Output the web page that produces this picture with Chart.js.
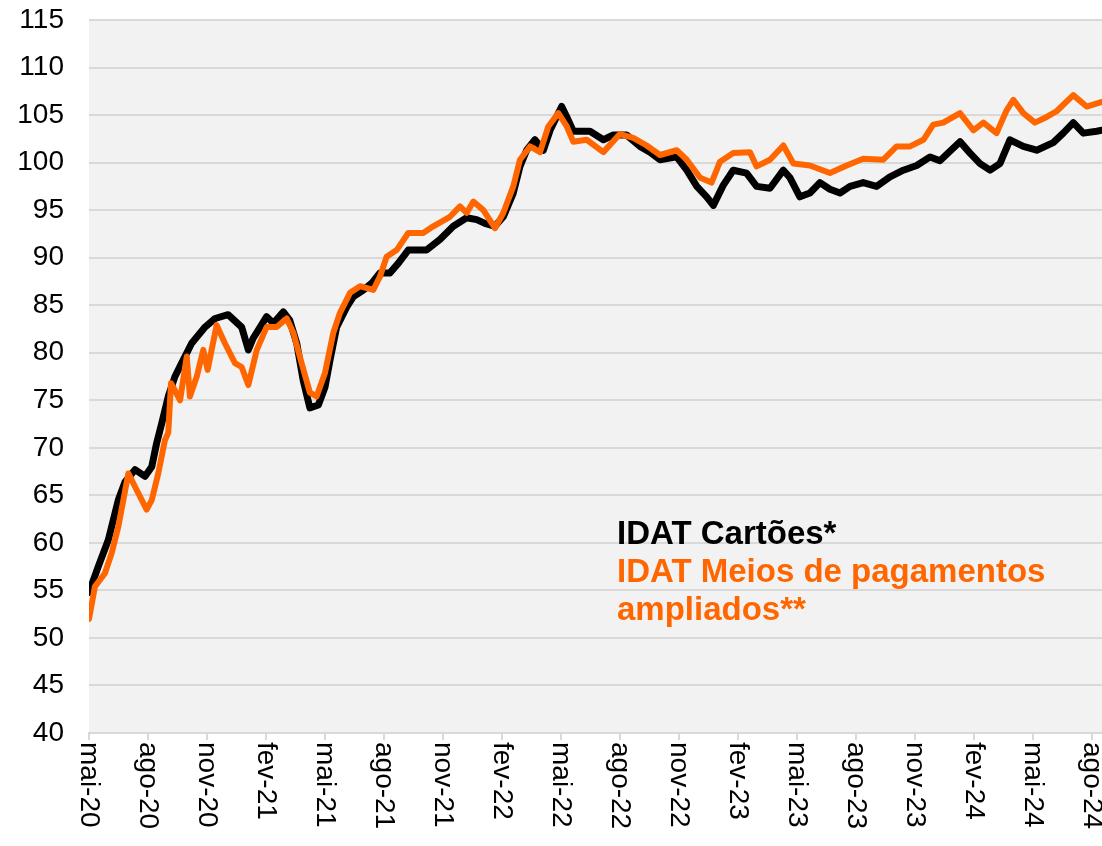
<!DOCTYPE html>
<html>
<head>
<meta charset="utf-8">
<script src="https://cdn.jsdelivr.net/npm/chart.js@4/dist/chart.umd.min.js"></script>
<style>
  html, body { margin: 0; padding: 0; background: #ffffff; }
  #box { width: 1102px; height: 846px; }
</style>
</head>
<body>
<div id="box"><canvas id="grafico" width="1102" height="846"></canvas></div>
<script>
// meses contados a partir de mai-20 (0 = mai-20, 3 = ago-20, ...)
const quarterLabels = ["mai-20", "ago-20", "nov-20", "fev-21", "mai-21", "ago-21", "nov-21", "fev-22", "mai-22",
  "ago-22", "nov-22", "fev-23", "mai-23", "ago-23", "nov-23", "fev-24", "mai-24", "ago-24"];

const cartoesMonths = [0, 0.47, 0.98, 1.49, 1.83, 2.34, 2.85, 3.19, 3.44, 3.70, 4.03, 4.37, 4.71, 5.22, 5.90, 6.41,
  7.07, 7.76, 8.10, 8.34, 9.03, 9.37, 9.88, 10.21, 10.56, 10.89, 11.23, 11.66, 12.00, 12.25, 12.59, 13.10, 13.44,
  13.95, 14.37, 14.79, 15.30, 15.72, 16.23, 17.16, 17.84, 18.52, 19.20, 19.71, 20.13, 20.64, 21.06, 21.57, 21.91,
  22.25, 22.67, 23.10, 23.44, 24.03, 24.29, 24.62, 25.47, 26.15, 26.66, 27.33, 28.01, 28.52, 29.03, 29.88, 30.39,
  30.90, 31.40, 31.74, 32.24, 32.75, 33.43, 33.94, 34.62, 35.30, 35.64, 36.14, 36.65, 37.16, 37.67, 38.18, 38.69,
  39.36, 40.04, 40.72, 41.40, 42.08, 42.76, 43.26, 44.28, 44.79, 45.30, 45.81, 46.31, 46.82, 47.50, 48.18, 49.02,
  49.53, 50.04, 50.55, 51.23, 51.50];
const cartoesValues = [54.8, 57.5, 60.3, 64.5, 66.4, 67.7, 67.0, 68.0, 70.5, 72.6, 75.4, 77.5, 78.9, 81.0, 82.7, 83.6,
  84.0, 82.7, 80.3, 81.5, 83.8, 83.1, 84.3, 83.4, 81.0, 77.1, 74.2, 74.5, 76.4, 79.2, 82.7, 84.8, 85.9,
  86.6, 87.3, 88.4, 88.4, 89.4, 90.8, 90.8, 91.9, 93.3, 94.2, 94.0, 93.6, 93.3, 94.3, 96.8, 99.6,
  101.3, 102.4, 101.3, 103.4, 105.9, 104.8, 103.3, 103.3, 102.4, 102.9, 102.9, 101.7, 101.1, 100.3, 100.6, 99.2,
  97.5, 96.4, 95.5, 97.6, 99.2, 98.9, 97.5, 97.3, 99.2, 98.4, 96.4, 96.8, 97.9, 97.2, 96.8, 97.5,
  97.9, 97.5, 98.5, 99.2, 99.7, 100.6, 100.2, 102.2, 101.0, 99.9, 99.2, 99.9, 102.4, 101.7, 101.3, 102.1,
  103.1, 104.2, 103.1, 103.3, 103.4];

const ampliadosMonths = [0, 0.30, 0.81, 1.15, 1.49, 2.00, 2.34, 2.93, 3.19, 3.52, 3.86, 4.03, 4.17, 4.63, 4.97, 5.13,
  5.48, 5.81, 6.03, 6.49, 6.91, 7.42, 7.76, 8.10, 8.53, 9.03, 9.54, 10.05, 10.39, 10.81, 11.23, 11.57, 12.00,
  12.42, 12.76, 13.27, 13.78, 14.45, 14.79, 15.13, 15.64, 16.23, 16.99, 17.50, 18.35, 18.86, 19.20, 19.54, 20.05,
  20.64, 21.06, 21.57, 21.91, 22.42, 22.93, 23.35, 23.86, 24.29, 24.62, 25.30, 26.15, 26.99, 27.67, 28.35, 29.03,
  29.88, 30.39, 31.07, 31.65, 32.08, 32.75, 33.60, 33.94, 34.62, 35.30, 35.81, 36.65, 37.67, 38.52, 39.36, 40.38,
  41.06, 41.74, 42.42, 42.92, 43.43, 44.28, 44.96, 45.47, 46.14, 46.65, 46.99, 47.50, 48.09, 48.69, 49.19, 50.04,
  50.72, 51.50];
const ampliadosValues = [52.0, 55.4, 56.8, 58.9, 61.7, 67.3, 65.9, 63.5, 64.5, 67.3, 70.8, 71.6, 76.8, 75.0, 79.6, 75.4,
  77.5, 80.3, 78.2, 82.9, 81.0, 78.9, 78.5, 76.6, 80.3, 82.7, 82.7, 83.6, 82.1, 78.9, 75.8, 75.4, 77.9,
  82.1, 84.2, 86.3, 87.0, 86.6, 88.0, 90.1, 90.8, 92.6, 92.6, 93.3, 94.3, 95.4, 94.7, 95.9, 95.0,
  93.1, 94.7, 97.5, 100.3, 101.7, 101.1, 103.8, 105.2, 103.8, 102.2, 102.4, 101.1, 103.0, 102.6, 101.8, 100.8,
  101.3, 100.3, 98.4, 97.9, 100.1, 101.0, 101.1, 99.6, 100.3, 101.8, 99.9, 99.7, 98.9, 99.7, 100.4, 100.3,
  101.7, 101.7, 102.4, 104.0, 104.2, 105.2, 103.4, 104.2, 103.1, 105.5, 106.6, 105.2, 104.2, 104.8, 105.4, 107.1,
  105.9, 106.4];

const legendLines = [
  { text: "IDAT Cartões*", color: "#000000" },
  { text: "IDAT Meios de pagamentos", color: "#ff6600" },
  { text: "ampliados**", color: "#ff6600" }
];

function toPoints(months, values) {
  return months.map((m, i) => ({ x: m, y: values[i] }));
}

const fundoPlugin = {
  id: "fundo",
  beforeDraw(chart) {
    const { ctx, chartArea } = chart;
    ctx.save();
    ctx.fillStyle = "#f2f2f2";
    ctx.fillRect(chartArea.left, chartArea.top, chartArea.right - chartArea.left, chartArea.bottom - chartArea.top);
    ctx.restore();
  }
};

const textosPlugin = {
  id: "textos",
  afterDraw(chart) {
    const { ctx, chartArea } = chart;
    const xScale = chart.scales.x;
    ctx.save();
    ctx.fillStyle = "#000000";
    ctx.font = "28px 'Liberation Sans', Arial, sans-serif";
    ctx.textAlign = "left";
    ctx.textBaseline = "middle";
    xScale.ticks.forEach(tick => {
      const label = quarterLabels[Math.round(tick.value / 3)];
      if (!label) return;
      const x = xScale.getPixelForValue(tick.value);
      ctx.save();
      ctx.translate(x, chartArea.bottom + 9);
      ctx.rotate(Math.PI / 2);
      ctx.fillText(label, 0, 0);
      ctx.restore();
    });

    ctx.font = "bold 33px 'Liberation Sans', Arial, sans-serif";
    ctx.textBaseline = "alphabetic";
    legendLines.forEach((line, i) => {
      ctx.fillStyle = line.color;
      ctx.fillText(line.text, 617, 544 + i * 38);
    });
    ctx.restore();
  }
};

new Chart(document.getElementById("grafico"), {
  type: "line",
  data: {
    datasets: [
      {
        label: "IDAT Cartões*",
        data: toPoints(cartoesMonths, cartoesValues),
        borderColor: "#000000",
        borderWidth: 7,
        pointRadius: 0,
        tension: 0,
        borderJoinStyle: "round",
        borderCapStyle: "round",
        order: 2
      },
      {
        label: "IDAT Meios de pagamentos ampliados**",
        data: toPoints(ampliadosMonths, ampliadosValues),
        borderColor: "#ff6600",
        borderWidth: 6,
        pointRadius: 0,
        tension: 0,
        borderJoinStyle: "round",
        borderCapStyle: "round",
        order: 1
      }
    ]
  },
  options: {
    responsive: false,
    animation: false,
    layout: { padding: { top: 20, right: 0, left: 0, bottom: 0 } },
    plugins: {
      legend: { display: false },
      tooltip: { enabled: false }
    },
    scales: {
      x: {
        type: "linear",
        min: 0,
        max: 51.5,
        afterBuildTicks(scale) {
          scale.ticks = quarterLabels.map((_, i) => ({ value: i * 3 }));
        },
        afterFit(scale) {
          scale.height = 113;
          scale.paddingLeft = 0;
          scale.paddingRight = 0;
        },
        ticks: { display: false },
        grid: {
          drawOnChartArea: false,
          drawTicks: true,
          tickLength: 7,
          color: "#d9d9d9",
          lineWidth: 2
        },
        border: { display: true, color: "#d9d9d9", width: 2 }
      },
      y: {
        min: 40,
        max: 115,
        afterFit(scale) {
          scale.width = 89;
          scale.paddingTop = 0;
          scale.paddingBottom = 0;
        },
        ticks: {
          stepSize: 5,
          padding: 25,
          color: "#000000",
          font: { family: "'Liberation Sans', Arial, sans-serif", size: 28 }
        },
        grid: { color: "#d9d9d9", lineWidth: 2, drawTicks: false },
        border: { display: false }
      }
    }
  },
  plugins: [fundoPlugin, textosPlugin]
});
</script>
</body>
</html>
